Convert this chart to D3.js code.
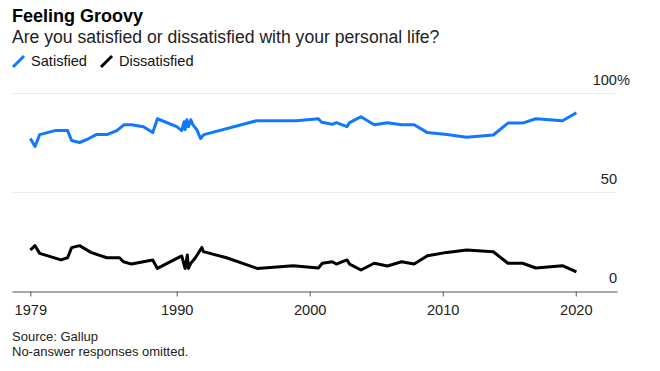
<!DOCTYPE html>
<html lang="en">
<head>
<meta charset="UTF-8">
<script src="https://cdnjs.cloudflare.com/ajax/libs/d3/7.8.5/d3.min.js"></script>
<style>
  body { margin: 0; background: #fff; }
  svg { font-family: "Liberation Sans", Arial, sans-serif; }
</style>
</head>
<body>
<div id="content"></div>
<script>
// survey dates (decimal years) and shares in percent
const satYears = [1979.0, 1979.35, 1979.7, 1980.85, 1981.8, 1982.1, 1982.7, 1983.4, 1983.95, 1984.75, 1985.5, 1986.05, 1986.6, 1987.5, 1988.2, 1988.55, 1990.0, 1990.38, 1990.56, 1990.63, 1990.76, 1990.88, 1991.06, 1991.21, 1991.51, 1991.8, 1992.05, 1996.0, 1999.0, 2000.65, 2000.9, 2001.7, 2002.0, 2002.8, 2003.0, 2003.85, 2004.85, 2005.85, 2006.9, 2007.85, 2008.85, 2010.3, 2011.8, 2013.8, 2014.9, 2016.0, 2017.0, 2019.0, 2020.05];
const satValues = [77, 73, 79, 81, 81, 76, 75, 77, 79, 79, 81, 84, 84, 83, 80, 87, 83, 81, 85.5, 81.5, 86.5, 83, 86.5, 84, 81.5, 77, 79, 86, 86, 87, 85.2, 84.2, 85, 83, 85, 88, 84, 85, 84, 84, 80, 79, 77.6, 78.8, 84.8, 84.8, 87, 86, 90];

const disYears = [1979.0, 1979.35, 1979.7, 1981.3, 1981.8, 1982.1, 1982.7, 1983.55, 1984.75, 1985.7, 1986.0, 1986.6, 1988.2, 1988.55, 1990.38, 1990.63, 1990.8, 1990.88, 1991.06, 1991.38, 1991.89, 1992.0, 1993.75, 1996.05, 1998.75, 2000.65, 2000.95, 2001.7, 2002.0, 2002.8, 2003.0, 2003.85, 2004.85, 2005.85, 2006.9, 2007.85, 2008.85, 2010.3, 2011.8, 2013.8, 2014.9, 2016.0, 2017.0, 2019.0, 2020.05];
const disValues = [20.7, 22.9, 19, 15.7, 16.8, 21.9, 22.9, 19.5, 16.8, 16.8, 14.8, 13.6, 15.7, 11.4, 17.7, 11.4, 18.2, 11.4, 14, 16.5, 22, 19.9, 16.8, 11.4, 12.8, 11.6, 14, 14.8, 13.6, 15.7, 13.6, 10.6, 14, 12.6, 14.8, 13.6, 17.8, 19.5, 20.7, 19.8, 14, 14, 11.6, 12.8, 9.7];

const xTicks = [1979, 1990, 2000, 2010, 2020];
const yTicks = [0, 50, 100];

const series = [
  { name: 'Satisfied', color: '#0f78ff', years: satYears, values: satValues },
  { name: 'Dissatisfied', color: '#000000', years: disYears, values: disValues }
];

const width = 660;
const height = 371;
const left = 12;
const right = 617;

const x = d3.scaleLinear().domain([1977.62, 2023.1]).range([left, right]);
const y = d3.scaleLinear().domain([0, 100]).range([291, 93]);

const svg = d3.select('#content')
  .append('svg')
  .attr('width', width)
  .attr('height', height);

//-Title
svg.append('text')
  .text('Feeling Groovy')
  .attr('x', 12).attr('y', 22)
  .style('font-size', '18px')
  .style('font-weight', 'bold')
  .style('fill', '#000');
svg.append('text')
  .text('Are you satisfied or dissatisfied with your personal life?')
  .attr('x', 12).attr('y', 43)
  .style('font-size', '17.6px')
  .style('fill', '#222');

//-Legend
let lx = 12;
series.forEach(s => {
  const g = svg.append('g').attr('transform', `translate(${lx},0)`);
  g.append('line')
    .attr('x1', 1).attr('y1', 67)
    .attr('x2', 12).attr('y2', 56)
    .style('stroke', s.color)
    .style('stroke-width', 3);
  const t = g.append('text')
    .text(s.name)
    .attr('x', 19).attr('y', 66)
    .style('font-size', '14.6px')
    .style('fill', '#111');
  lx += 19 + t.node().getComputedTextLength() + 13;
});

//-Grid
svg.append('g')
  .selectAll('line')
  .data(yTicks.filter(d => d > 0))
  .enter()
  .append('line')
  .attr('x1', left).attr('x2', right)
  .attr('y1', d => y(d) + 0.5).attr('y2', d => y(d) + 0.5)
  .style('stroke', '#eeeeee')
  .style('stroke-width', 1);

//-Y labels
svg.append('g')
  .selectAll('text')
  .data(yTicks)
  .enter()
  .append('text')
  .text(d => d)
  .attr('x', right)
  .attr('y', d => y(d) - 8)
  .attr('text-anchor', 'end')
  .style('font-size', '14.6px')
  .style('fill', '#222');
svg.append('text')
  .text('%')
  .attr('x', right)
  .attr('y', y(100) - 8)
  .style('font-size', '14.6px')
  .style('fill', '#222');

//-Lines
const line = d3.line()
  .x(d => x(d[0]))
  .y(d => y(d[1]));
series.forEach(s => {
  svg.append('path')
    .datum(s.years.map((yr, i) => [yr, s.values[i]]))
    .attr('d', line)
    .style('fill', 'none')
    .style('stroke', s.color)
    .style('stroke-width', 3)
    .style('stroke-linejoin', 'round');
});

//-Axis X
const xAxis = d3.axisBottom(x)
  .tickValues(xTicks)
  .tickFormat(d3.format('d'))
  .tickSize(5)
  .tickSizeOuter(0);
const gx = svg.append('g')
  .attr('transform', `translate(0,${y(0) + 0.5})`)
  .call(xAxis);
gx.select('.domain').style('stroke', '#555');
gx.selectAll('.tick line').style('stroke', '#555');
gx.selectAll('.tick text')
  .attr('dy', '0.71em')
  .attr('y', 13)
  .style('font-size', '14.6px')
  .style('font-family', '"Liberation Sans", Arial, sans-serif')
  .style('fill', '#222');

//-Source
svg.append('text')
  .text('Source: Gallup')
  .attr('x', 12).attr('y', 341)
  .style('font-size', '13px')
  .style('fill', '#222');
svg.append('text')
  .text('No-answer responses omitted.')
  .attr('x', 12).attr('y', 355.5)
  .style('font-size', '13px')
  .style('fill', '#222');
</script>
</body>
</html>
